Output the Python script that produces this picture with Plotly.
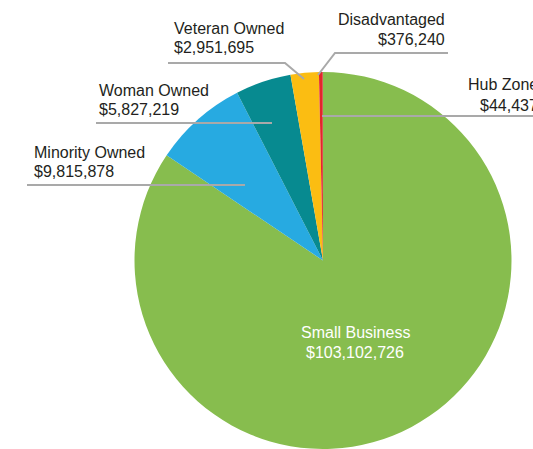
import plotly.graph_objects as go

# Contract dollars by business category
categories = ["Small Business", "Minority Owned", "Woman Owned",
              "Veteran Owned", "Disadvantaged", "Hub Zone"]
amounts = [103102726, 9815878, 5827219, 2951695, 376240, 44437]
colors = ["#87bd4e", "#27aae1", "#078a90", "#fbbd12", "#e3262a", "#c1272d"]

W, H = 533, 449


def fx(px):
    return px / W


def fy(py):
    return 1 - py / H


def money(v):
    return f"${v:,}"


fig = go.Figure(go.Pie(
    labels=categories,
    values=amounts,
    marker=dict(colors=colors, line=dict(width=0)),
    sort=False,
    direction="clockwise",
    rotation=0,
    textinfo="none",
    hoverinfo="label+value",
    domain=dict(x=[fx(133), fx(513)], y=[0, fy(72)]),
    showlegend=False,
))

TEXT = "#231f20"
FONT = "Liberation Sans, Arial, Helvetica, sans-serif"
LINE = "#a9a9a9"

# label blocks: (category index, anchor x px, name y px, value y px, xanchor, colour)
label_spots = [
    (0, 355, 332, 352, "center", "#ffffff"),
    (1, 32, 152, 171, "left", TEXT),
    (2, 97, 90, 109, "left", TEXT),
    (3, 172, 29, 48, "left", TEXT),
    (4, 447, 20, 39, "right", TEXT),
    (5, 540, 85, 105, "right", TEXT),
]

annotations = []
for idx, x, y1, y2, xa, col in label_spots:
    for txt, yy in ((categories[idx], y1), (money(amounts[idx]), y2)):
        annotations.append(dict(
            x=fx(x), y=fy(yy), xref="paper", yref="paper",
            text=txt, showarrow=False, xanchor=xa, yanchor="middle",
            font=dict(family=FONT, size=16, color=col),
        ))

# leader lines from each label into its slice
leaders = [
    [(27, 185), (245, 185)],
    [(96, 123), (272, 123)],
    [(168, 63), (285, 63), (304, 79)],
    [(448, 53), (335, 53), (318, 75)],
    [(533, 116), (322, 116)],
]
shapes = []
for pts in leaders:
    path = "M " + " L ".join(f"{fx(px):.5f},{fy(py):.5f}" for px, py in pts)
    shapes.append(dict(type="path", path=path, xref="paper", yref="paper",
                       line=dict(color=LINE, width=2)))

fig.update_layout(
    width=W, height=H,
    margin=dict(l=0, r=0, t=0, b=0),
    paper_bgcolor="#ffffff",
    plot_bgcolor="#ffffff",
    annotations=annotations,
    shapes=shapes,
)

fig.write_html("out.html")
